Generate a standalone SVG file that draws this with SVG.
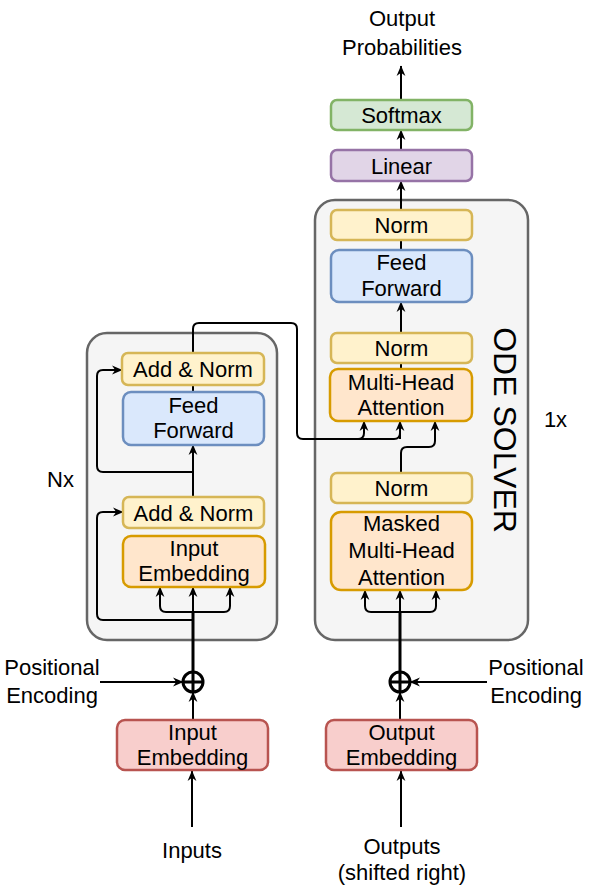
<svg xmlns="http://www.w3.org/2000/svg" width="590" height="894" viewBox="0 0 590 894">
<defs>
<marker id="ah" viewBox="0 0 10 10" refX="9.5" refY="5" markerWidth="10.5" markerHeight="10.5" markerUnits="userSpaceOnUse" orient="auto">
<path d="M0,0.8 L10,5 L0,9.2 L3,5 z" fill="#000"/>
</marker>
<style>
text{font-family:"Liberation Sans",Arial,Helvetica,sans-serif;font-size:22px;fill:#000;text-anchor:middle}
.box{stroke-width:2.5}
.yel{fill:#fff2cc;stroke:#d6b656}
.blu{fill:#dae8fc;stroke:#6c8ebf}
.org{fill:#ffe6cc;stroke:#d79b00}
.red{fill:#f8cecc;stroke:#b85450}
.grn{fill:#d5e8d4;stroke:#82b366}
.pur{fill:#e1d5e7;stroke:#9673a6}
.cont{fill:#f5f5f5;stroke:#666666;stroke-width:2.5}
.c{fill:none;stroke:#000;stroke-width:2}
.a{fill:none;stroke:#000;stroke-width:2;marker-end:url(#ah)}
.t{fill:none;stroke:#000;stroke-width:3}
</style>
</defs>

<g id="encoder-container"><rect class="cont" x="87" y="333" width="190" height="307" rx="20"/></g>
<g id="decoder-container"><rect class="cont" x="315" y="200" width="213" height="440" rx="20"/></g>

<g id="connectors">
<line class="a" x1="401" y1="100" x2="401" y2="66"/>
<line class="a" x1="401" y1="150" x2="401" y2="130"/>
<line class="a" x1="401" y1="210" x2="401" y2="181"/>
<line class="c" x1="401" y1="250" x2="401" y2="240"/>
<line class="a" x1="401" y1="333" x2="401" y2="302"/>
<line class="c" x1="401" y1="369" x2="401" y2="363"/>
<path class="c" d="M193,392 L193,329 Q193,323 199,323 L291,323 Q297,323 297,329 L297,433 Q297,439 303,439 L394,439 Q400,439 400,433 L400,421"/>
<path class="a" d="M358,439 Q364,439 364,433 L364,421"/>
<path class="a" d="M400,439 L400,421"/>
<path class="a" d="M401,473 L401,453 Q401,447 407,447 L429,447 Q435,447 435,441 L435,421"/>
<line class="a" x1="193" y1="497" x2="193" y2="445"/>
<path class="a" d="M193,472 L103,472 Q97,472 97,466 L97,376 Q97,370 103,370 L122,370"/>
<path class="a" d="M193,620 L103,620 Q97,620 97,614 L97,518 Q97,512 103,512 L123,512"/>
<line class="t" x1="193" y1="672" x2="193" y2="612"/>
<line class="a" x1="193" y1="614" x2="193" y2="587"/>
<path class="a" d="M193,612 L166,612 Q160,612 160,606 L160,587"/>
<path class="a" d="M193,612 L224,612 Q230,612 230,606 L230,587"/>
<line class="t" x1="400" y1="672" x2="400" y2="612"/>
<line class="a" x1="400" y1="614" x2="400" y2="590"/>
<path class="a" d="M400,612 L371,612 Q365,612 365,606 L365,590"/>
<path class="a" d="M400,612 L430,612 Q436,612 436,606 L436,590"/>
<line class="a" x1="193" y1="720" x2="193" y2="692"/>
<line class="a" x1="400" y1="720" x2="400" y2="692"/>
<line class="a" x1="100" y1="682" x2="183" y2="682"/>
<line class="a" x1="487" y1="682" x2="410" y2="682"/>
<line class="a" x1="192" y1="827" x2="192" y2="771"/>
<line class="a" x1="401" y1="827" x2="401" y2="771"/>
</g>

<g id="add-left"><circle cx="193" cy="682" r="10" fill="none" stroke="#000" stroke-width="3"/><path d="M183,682 H203 M193,672 V692" stroke="#000" stroke-width="3"/></g>
<g id="add-right"><circle cx="400" cy="682" r="10" fill="none" stroke="#000" stroke-width="3"/><path d="M390,682 H410 M400,672 V692" stroke="#000" stroke-width="3"/></g>

<g id="output-probabilities"><text x="402" y="26">Output</text><text x="402" y="55">Probabilities</text></g>
<g id="softmax"><rect class="box grn" x="331" y="100" width="141" height="30" rx="6"/><text x="401.5" y="123">Softmax</text></g>
<g id="linear"><rect class="box pur" x="331" y="150" width="141" height="31" rx="6"/><text x="401.5" y="173.5">Linear</text></g>

<g id="dec-norm-top"><rect class="box yel" x="331" y="210" width="141" height="30" rx="6"/><text x="401.5" y="233">Norm</text></g>
<g id="dec-feed-forward"><rect class="box blu" x="331" y="250" width="141" height="52" rx="8"/><text x="401.5" y="270">Feed</text><text x="401.5" y="296">Forward</text></g>
<g id="dec-norm-mid"><rect class="box yel" x="331" y="333" width="141" height="30" rx="6"/><text x="401.5" y="356">Norm</text></g>
<g id="dec-mha"><rect class="box org" x="330" y="369" width="142" height="52" rx="8"/><text x="401" y="390">Multi-Head</text><text x="401" y="415">Attention</text></g>
<g id="dec-norm-low"><rect class="box yel" x="331" y="473" width="141" height="30" rx="6"/><text x="401.5" y="496">Norm</text></g>
<g id="dec-masked-mha"><rect class="box org" x="331" y="512" width="141" height="78" rx="10"/><text x="401.5" y="531">Masked</text><text x="401.5" y="558">Multi-Head</text><text x="401.5" y="585">Attention</text></g>
<g id="ode-solver"><text transform="translate(505,430) rotate(90)" x="0" y="11.5" style="font-size:32px">ODE SOLVER</text></g>
<g id="label-1x"><text x="555.5" y="427">1x</text></g>

<g id="enc-add-norm-top"><rect class="box yel" x="122" y="353" width="142" height="32" rx="6"/><text x="193" y="377">Add &amp; Norm</text></g>
<g id="enc-feed-forward"><rect class="box blu" x="123" y="392" width="141" height="53" rx="8"/><text x="193.5" y="413">Feed</text><text x="193.5" y="438">Forward</text></g>
<g id="enc-add-norm-low"><rect class="box yel" x="123" y="497" width="141" height="31" rx="6"/><text x="193.5" y="520.5">Add &amp; Norm</text></g>
<g id="enc-input-embedding"><rect class="box org" x="123" y="536" width="142" height="51" rx="8"/><text x="194" y="556">Input</text><text x="194" y="581">Embedding</text></g>
<g id="label-nx"><text x="60.5" y="487">Nx</text></g>

<g id="pos-enc-left"><text x="52" y="675">Positional</text><text x="52" y="703">Encoding</text></g>
<g id="pos-enc-right"><text x="536" y="675">Positional</text><text x="536" y="703">Encoding</text></g>

<g id="input-embedding"><rect class="box red" x="117" y="720" width="151" height="50" rx="8"/><text x="192.5" y="740">Input</text><text x="192.5" y="765">Embedding</text></g>
<g id="output-embedding"><rect class="box red" x="326" y="720" width="151" height="50" rx="8"/><text x="401.5" y="740">Output</text><text x="401.5" y="765">Embedding</text></g>

<g id="inputs"><text x="192" y="858">Inputs</text></g>
<g id="outputs"><text x="402" y="854">Outputs</text><text x="402" y="880">(shifted right)</text></g>
</svg>
